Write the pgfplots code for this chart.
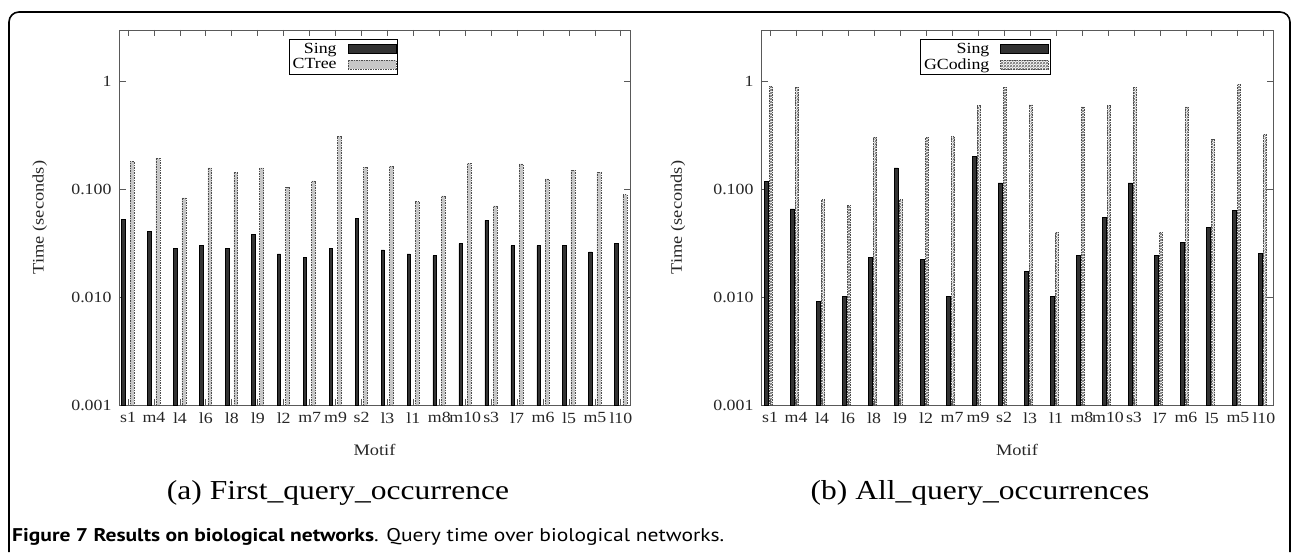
\documentclass[border=0pt]{standalone}
\usepackage{pgfplots}
\pgfplotsset{compat=1.18}
\usepackage{pgfplotstable}
\usetikzlibrary{patterns}
\usepackage{fontspec}
\setmainfont{Liberation Serif}[FakeStretch=1.15]
\newfontfamily\capfont{PT Sans}[FakeStretch=1.17]

% query times in seconds
\pgfplotstableread{
k cat fs fc as ag
0 s1 0.0527 0.1815 0.1186 0.906
1 m4 0.0408 0.1936 0.0657 0.887
2 l4 0.0284 0.0832 0.0092 0.0802
3 l6 0.0303 0.1577 0.0101 0.0711
4 l8 0.0284 0.1427 0.0235 0.303
5 l9 0.0383 0.1577 0.158 0.0802
6 l2 0.0252 0.1044 0.0225 0.303
7 m7 0.0233 0.1195 0.0101 0.310
8 m9 0.0284 0.310 0.2006 0.596
9 s2 0.0539 0.161 0.1145 0.887
10 l3 0.0274 0.164 0.0173 0.608
11 l1 0.0252 0.0769 0.0101 0.040
12 m8 0.0243 0.0867 0.0243 0.582
13 m10 0.0314 0.174 0.0551 0.596
14 s3 0.0516 0.0701 0.1145 0.887
15 l7 0.0301 0.172 0.0243 0.040
16 m6 0.0301 0.1247 0.0321 0.582
17 l5 0.0301 0.151 0.0442 0.292
18 m5 0.0263 0.1437 0.0639 0.938
19 l10 0.0314 0.0893 0.0254 0.321
}\datatable

\pgfplotsset{
  every axis/.append style={
    scale only axis, height=375pt,
    xmin=-0.35, xmax=19.35,
    xtick={0,...,19},
    xticklabels from table={\datatable}{cat},
    ytick={0.001,0.01,0.1,1},
    yticklabels={\textrm{0.001},\textrm{0.010},\textrm{0.100},\textrm{1}},
    yminorticks=false,
    tick align=inside, major tick length=6.5pt,
    axis line style={draw=black!65, line width=0.9pt},
    tick style={draw=black!65, line width=0.9pt},
    ticklabel style={font=\fontsize{15.5}{17}\selectfont, text=black!85},
    yticklabel style={xshift=-4pt},
    xticklabel style={yshift=-4pt},
    xlabel={Motif}, ylabel={Time (seconds)},
    every axis x label/.style={at={(axis description cs:0.5,-0.12)}, anchor=center,
      font=\fontsize{16}{18}\selectfont, text=black!85},
    legend plot pos=right,
    legend cell align=right,
    legend style={anchor=north east, draw=black, line width=0.8pt,
      inner sep=1.5pt, row sep=0pt, column sep=9pt,
      font=\fontsize{15.5}{17}\selectfont},
    legend image code/.code={\draw[#1] (0pt,-4.5pt) rectangle (48pt,4.5pt);},
  },
}

\begin{document}
\begin{tikzpicture}
\path[use as bounding box] (0,0) rectangle (1292pt,552pt);
% outer frame
\draw[line width=1.6pt, rounded corners=10pt] (9pt,0pt) -- (9pt,540pt) -- (1290pt,540pt) -- (1290pt,0pt);

\begin{semilogyaxis}[width=511pt, at={(119pt,147pt)}, anchor=south west,
  ymin=0.001, ymax=3, log origin y=infty,
  every axis y label/.style={at={(axis description cs:-0.155,0.5)}, rotate=90, anchor=center,
    font=\fontsize{16}{18}\selectfont, text=black!85},
  legend style={at={(0.546,0.976)}}]
\addplot[ybar, bar width=0.13, bar shift=-0.18, fill=black!80, draw=black, line width=0.5pt]
  table[x=k, y=fs] {\datatable};
\addplot[ybar, bar width=0.15, bar shift=0.15, fill=black!22, draw=black!70,
  line width=0.5pt, dash pattern=on 1.5pt off 1pt] table[x=k, y=fc] {\datatable};
\legend{Sing, CTree}
\end{semilogyaxis}

\begin{semilogyaxis}[width=512pt, at={(761pt,147pt)}, anchor=south west,
  ymin=0.001, ymax=3, log origin y=infty,
  every axis y label/.style={at={(axis description cs:-0.162,0.5)}, rotate=90, anchor=center,
    font=\fontsize{16}{18}\selectfont, text=black!85},
  legend style={at={(0.566,0.976)}}]
\addplot[ybar, bar width=0.15, bar shift=-0.15, fill=black!80, draw=black, line width=0.5pt]
  table[x=k, y=as] {\datatable};
\addplot[ybar, bar width=0.13, bar shift=0.03, pattern=crosshatch, pattern color=black!60,
  draw=black!70, line width=0.5pt, dash pattern=on 1.5pt off 1pt] table[x=k, y=ag] {\datatable};
\legend{Sing, GCoding}
\end{semilogyaxis}

\node[anchor=base, inner sep=0, font=\fontsize{27.4}{30}\selectfont] at (338pt,53pt) {(a) First\_query\_occurrence};
\node[anchor=base, inner sep=0, font=\fontsize{27.4}{30}\selectfont] at (980pt,53pt) {(b) All\_query\_occurrences};
\node[anchor=base west, inner sep=0, font=\capfont\fontsize{18.4}{20}\selectfont] at (12pt,11pt)
  {\textbf{Figure 7 Results on biological networks}. Query time over biological networks.};
\end{tikzpicture}
\end{document}
